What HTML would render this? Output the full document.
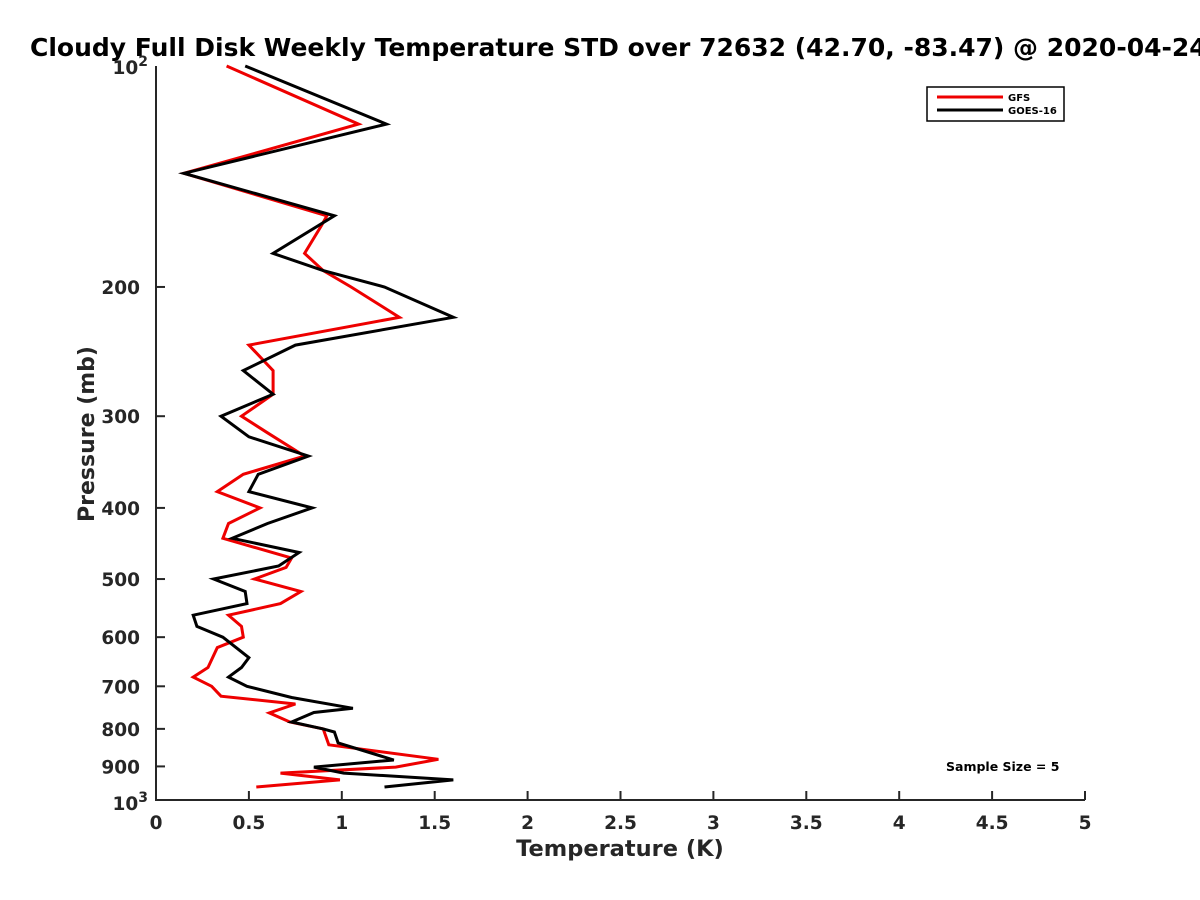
<!DOCTYPE html>
<html><head><meta charset="utf-8"><style>
html,body{margin:0;padding:0;background:#fff;overflow:hidden;}
svg{display:block;font-family:"DejaVu Sans","Liberation Sans",sans-serif;font-weight:bold;}
</style></head><body>
<svg id="chart" width="1200" height="900" viewBox="0 0 1200 900">
<text x="30" y="56" font-size="25" fill="#000">Cloudy Full Disk Weekly Temperature STD over 72632 (42.70, -83.47) @ 2020-04-24</text>
<g id="axes"></g>
<g id="series"></g>
<g>
<rect x="927" y="87" width="137" height="34" fill="#fff" stroke="#000" stroke-width="1.5"/>
<line x1="937" y1="97" x2="1003" y2="97" stroke="#e00" stroke-width="3"/>
<text x="1008" y="101" font-size="10">GFS</text>
<line x1="937" y1="110" x2="1003" y2="110" stroke="#000" stroke-width="3"/>
<text x="1008" y="114" font-size="10">GOES-16</text>
</g>
<text x="946" y="771" font-size="12.5">Sample Size = 5</text>
<text x="620" y="856" font-size="22.5" fill="#262626" text-anchor="middle">Temperature (K)</text>
<text transform="translate(94,434) rotate(-90)" font-size="22" fill="#262626" text-anchor="middle">Pressure (mb)</text>
</svg>
<script>
const xTicks=[0,0.5,1,1.5,2,2.5,3,3.5,4,4.5,5];
const xTickLabels=["0","0.5","1","1.5","2","2.5","3","3.5","4","4.5","5"];
const yTicks=[200,300,400,500,600,700,800,900];
const yTickLabels=["200","300","400","500","600","700","800","900"];
const gfsP=[100,120,140,160,165,180,190,200,220,240,260,280,300,316,340,360,380,400,420,440,468,482,500,520,540,560,580,600,620,660,680,700,722,740,761,783,800,841,880,902,919,939,960];
const gfsT=[0.38,1.09,0.15,0.92,0.89,0.80,0.90,1.05,1.31,0.50,0.63,0.63,0.46,0.60,0.80,0.47,0.33,0.56,0.39,0.36,0.73,0.70,0.53,0.78,0.67,0.39,0.46,0.47,0.33,0.28,0.20,0.30,0.35,0.75,0.61,0.72,0.90,0.93,1.52,1.29,0.67,0.99,0.54];
const goesP=[100,120,140,160,180,190,200,220,240,260,280,300,320,340,360,380,400,420,440,460,480,500,520,540,560,580,600,640,660,680,700,725,750,760,783,800,808,836,882,902,919,939,960];
const goesT=[0.48,1.24,0.15,0.96,0.63,0.90,1.23,1.60,0.75,0.47,0.63,0.35,0.50,0.82,0.55,0.50,0.84,0.60,0.41,0.77,0.66,0.31,0.48,0.49,0.20,0.22,0.36,0.50,0.46,0.39,0.49,0.73,1.06,0.85,0.73,0.90,0.96,0.98,1.28,0.85,1.01,1.60,1.23];
const X0=156,X1=1085,Y0=66,Y1=800;
const xs=t=>X0+(t/5)*(X1-X0);
const ys=p=>Y0+Math.log10(p/100)*(Y1-Y0);
const NS="http://www.w3.org/2000/svg";
const axes=document.getElementById('axes'), ser=document.getElementById('series');
function mk(tag,attrs,parent){const e=document.createElementNS(NS,tag);for(const k in attrs)e.setAttribute(k,attrs[k]);parent.appendChild(e);return e;}
let e=mk('path',{d:`M${X0},${Y0} L${X0},${Y1} L${X1},${Y1}`,fill:'none',stroke:'#262626','stroke-width':2},axes);


xTicks.forEach((t,i)=>{
 const l=mk('line',{x1:xs(t),x2:xs(t),y1:Y1,y2:Y1-9,stroke:'#262626','stroke-width':2},axes);
 
 
 const tx=mk('text',{x:xs(t),y:Y1+29,'font-size':18.5,fill:'#262626','text-anchor':'middle'},axes);
 tx.textContent=xTickLabels[i];
 
 
});
yTicks.forEach((p,i)=>{
 const l=mk('line',{x1:X0,x2:X0+9,y1:ys(p),y2:ys(p),stroke:'#262626','stroke-width':2},axes);
 
 
 const tx=mk('text',{x:X0-16,y:ys(p)+7,'font-size':18.5,fill:'#262626','text-anchor':'end'},axes);
 tx.textContent=yTickLabels[i];
 
 
});
[[100,'2'],[1000,'3']].forEach(([p,s])=>{
 const tx=mk('text',{x:X0-8,y:ys(p)+(p===100?8:10),'font-size':18.5,fill:'#262626','text-anchor':'end'},axes);
 tx.innerHTML='10<tspan dy="-8" font-size="14">'+s+'</tspan>';
 
 
});
function line(P,T,color,name){
 const d=P.map((p,i)=>(i?'L':'M')+xs(T[i]).toFixed(1)+','+ys(p).toFixed(1)).join(' ');
 const pth=mk('path',{d:d,fill:'none',stroke:color,'stroke-width':3,'stroke-linejoin':'miter'},ser);
 
 
}
line(gfsP,gfsT,'#e00','gfs-line');
line(goesP,goesT,'#000','goes16-line');
</script>
</body></html>
